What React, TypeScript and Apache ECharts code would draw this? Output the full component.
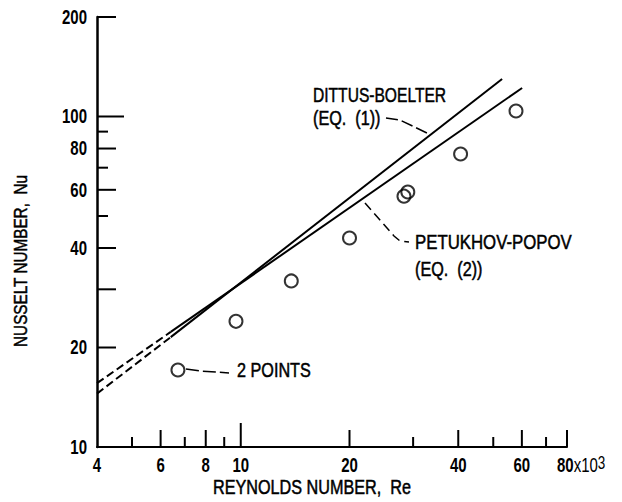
import React, { useEffect, useRef } from 'react';
import * as echarts from 'echarts';

// Axis ranges (Re in thousands)
const reMin = 4;
const reMax = 80;
const nuMin = 10;
const nuMax = 200;

// Measured heat-transfer data
const measuredRe = [6.7, 9.7, 13.8, 20.0, 28.3, 29.0, 40.6, 57.8];
const measuredNu = [17.1, 24.0, 31.8, 42.9, 57.4, 59.1, 77.0, 103.9];

// Correlations: extrapolated (dashed) and fitted-range (solid) parts
const dittusExtrapRe = [4, 6.4];
const dittusExtrapNu = [14.5, 21.5];
const dittusRe = [6.4, 52.9];
const dittusNu = [21.5, 129.9];
const petukhovExtrapRe = [4, 6.4];
const petukhovExtrapNu = [15.6, 22.3];
const petukhovRe = [6.4, 60.1];
const petukhovNu = [22.3, 122.0];

// Tick marks and labels
const reLabelValues = [4, 6, 8, 10, 20, 40, 60, 80];
const reLabels = ['4', '6', '8', '10', '20', '40', '60', '80'];
const reMultiplier = 'x10';
const reExponent = '3';
const reLongTicks = [10];
const reMajorTicks = [6, 8, 20, 40, 60, 80];
const reMinorTicks = [5, 7, 9, 30, 50, 70];

const nuLabelValues = [10, 20, 40, 60, 80, 100, 200];
const nuLabels = ['10', '20', '40', '60', '80', '100', '200'];
const nuLongTicks = [100];
const nuMajorTicks = [20, 30, 40, 60, 80, 200];
const nuMinorTicks = [50, 70, 90];

// Condensed lettering: a regular sans face squeezed horizontally
const FONT = "'Liberation Sans', Arial, sans-serif";
const NUM_SQUEEZE = 0.75;
const TEXT_SQUEEZE = 0.81;
const INK = '#000';

const zip = (a: number[], b: number[]) => a.map((v, i) => [v, b[i]]);

function xTickSeries(values: number[], length: number) {
  return {
    type: 'custom',
    silent: true,
    clip: false,
    z: 5,
    data: values.map((v) => [v, nuMin]),
    renderItem: (_p: any, api: any) => {
      const c = api.coord([api.value(0), api.value(1)]);
      return {
        type: 'line',
        shape: { x1: c[0], y1: c[1], x2: c[0], y2: c[1] - length },
        style: { stroke: INK, lineWidth: 2 },
      };
    },
  };
}

function yTickSeries(values: number[], length: number) {
  return {
    type: 'custom',
    silent: true,
    clip: false,
    z: 5,
    data: values.map((v) => [reMin, v]),
    renderItem: (_p: any, api: any) => {
      const c = api.coord([api.value(0), api.value(1)]);
      return {
        type: 'line',
        shape: { x1: c[0], y1: c[1], x2: c[0] + length, y2: c[1] },
        style: { stroke: INK, lineWidth: 2 },
      };
    },
  };
}

const xLabelSeries = {
  type: 'custom',
  silent: true,
  clip: false,
  z: 5,
  data: reLabelValues.map((v) => [v, nuMin]),
  renderItem: (params: any, api: any) => {
    const c = api.coord([api.value(0), api.value(1)]);
    const i = params.dataIndex;
    if (i === reLabels.length - 1) {
      return {
        type: 'text',
        x: c[0] - 10,
        y: c[1] + 18,
        scaleX: NUM_SQUEEZE,
        style: {
          text: `{b|${reLabels[i]}}{m|${reMultiplier}}{s|${reExponent}}`,
          align: 'left',
          verticalAlign: 'middle',
          rich: {
            b: { fontFamily: FONT, fontSize: 20, fontWeight: 'bold', fill: INK, lineHeight: 22 },
            m: { fontFamily: FONT, fontSize: 20, fill: INK, lineHeight: 22 },
            s: { fontFamily: FONT, fontSize: 18, fill: INK, lineHeight: 8, verticalAlign: 'top' },
          },
        },
      };
    }
    return {
      type: 'text',
      x: c[0],
      y: c[1] + 18,
      scaleX: NUM_SQUEEZE,
      style: {
        text: reLabels[i],
        fontFamily: FONT,
        fontSize: 20,
        fontWeight: 'bold',
        fill: INK,
        align: 'center',
        verticalAlign: 'middle',
      },
    };
  },
};

const yLabelSeries = {
  type: 'custom',
  silent: true,
  clip: false,
  z: 5,
  data: nuLabelValues.map((v) => [reMin, v]),
  renderItem: (params: any, api: any) => {
    const c = api.coord([api.value(0), api.value(1)]);
    return {
      type: 'text',
      x: c[0] - 10,
      y: c[1],
      scaleX: NUM_SQUEEZE,
      style: {
        text: nuLabels[params.dataIndex],
        fontFamily: FONT,
        fontSize: 20,
        fontWeight: 'bold',
        fill: INK,
        align: 'right',
        verticalAlign: 'middle',
      },
    };
  },
};

function curve(data: number[][], dashed: boolean) {
  return {
    type: 'line',
    data,
    symbol: 'none',
    silent: true,
    z: 3,
    lineStyle: { color: INK, width: 2, type: dashed ? [8, 4] : 'solid' },
  };
}

// Annotation text with a hairline outline for a medium-weight look
const note = (text: string, x: number, y: number, extra: any = {}) => ({
  type: 'text',
  x,
  y,
  silent: true,
  scaleX: TEXT_SQUEEZE,
  ...extra,
  style: {
    text,
    fontFamily: FONT,
    fontSize: 20,
    fill: INK,
    stroke: INK,
    lineWidth: 0.5,
    align: extra.align || 'left',
    verticalAlign: 'middle',
    ...(extra.style || {}),
  },
});

const leader = (points: number[][], dash: number[]) => ({
  type: 'polyline',
  silent: true,
  shape: { points },
  style: { stroke: INK, lineWidth: 1.5, fill: null, lineDash: dash },
});

const option = {
  animation: false,
  backgroundColor: '#fff',
  grid: { left: 97, top: 17, width: 470, height: 430, containLabel: false },
  xAxis: {
    type: 'log',
    logBase: 10,
    min: reMin,
    max: reMax,
    axisLine: { show: true, onZero: false, lineStyle: { color: INK, width: 2 } },
    axisTick: { show: false },
    minorTick: { show: false },
    axisLabel: { show: false },
    splitLine: { show: false },
  },
  yAxis: {
    type: 'log',
    logBase: 10,
    min: nuMin,
    max: nuMax,
    axisLine: { show: true, onZero: false, lineStyle: { color: INK, width: 2.5 } },
    axisTick: { show: false },
    minorTick: { show: false },
    axisLabel: { show: false },
    splitLine: { show: false },
  },
  graphic: [
    note('DITTUS-BOELTER', 313, 95, { scaleX: 0.78 }),
    note('(EQ.  (1))', 313, 118),
    leader([[386, 118], [400, 120], [427, 133]], [12, 4]),
    note('PETUKHOV-POPOV', 415, 242, { scaleX: 0.84 }),
    note('(EQ.  (2))', 415, 269),
    leader([[365, 203], [394, 236], [400, 241], [409, 242]], [9, 5]),
    note('2 POINTS', 237, 370),
    leader([[186, 369], [201, 371], [229, 373]], [13, 4]),
    note('REYNOLDS NUMBER,  Re', 312, 487, { align: 'center' }),
    note('NUSSELT NUMBER,  Nu', 21, 261, {
      align: 'center',
      rotation: Math.PI / 2,
      scaleX: 0.85,
      style: { fontSize: 18 },
    }),
  ],
  series: [
    curve(zip(dittusExtrapRe, dittusExtrapNu), true),
    curve(zip(dittusRe, dittusNu), false),
    curve(zip(petukhovExtrapRe, petukhovExtrapNu), true),
    curve(zip(petukhovRe, petukhovNu), false),
    {
      type: 'scatter',
      data: zip(measuredRe, measuredNu),
      symbol: 'circle',
      symbolSize: 13,
      silent: true,
      z: 4,
      itemStyle: { color: 'rgba(0,0,0,0)', borderColor: INK, borderWidth: 2 },
    },
    xTickSeries(reLongTicks, 24),
    xTickSeries(reMajorTicks, 17),
    xTickSeries(reMinorTicks, 10),
    yTickSeries(nuLongTicks, 27),
    yTickSeries(nuMajorTicks, 19),
    yTickSeries(nuMinorTicks, 11),
    xLabelSeries,
    yLabelSeries,
  ],
};

export default function App() {
  const ref = useRef<HTMLDivElement>(null);
  useEffect(() => {
    const chart = echarts.init(ref.current as HTMLDivElement, null, { renderer: 'svg' });
    chart.setOption(option as any);
    return () => chart.dispose();
  }, []);
  return (
    <div
      ref={ref}
      style={{ position: 'fixed', left: 0, top: 0, width: 622, height: 502, background: '#fff' }}
    />
  );
}
